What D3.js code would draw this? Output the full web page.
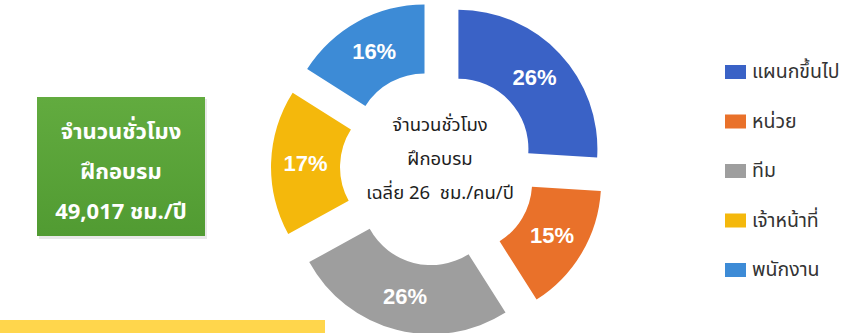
<!DOCTYPE html>
<html>
<head>
<meta charset="utf-8">
<script src="https://cdn.jsdelivr.net/npm/d3@7"></script>
<style>
  html, body { margin: 0; padding: 0; background: #ffffff; }
  svg { display: block; }
  .thai { font-family: "Noto Sans Thai", "Noto Sans Thai Looped", "Noto Sans", "Liberation Sans", sans-serif; white-space: pre; }
</style>
</head>
<body>
<svg id="chart" width="846" height="333"></svg>
<script>
// Training hours by staff level (share of total hours)
const categories = ["แผนกขึ้นไป", "หน่วย", "ทีม", "เจ้าหน้าที่", "พนักงาน"];
const values = [26, 15, 26, 17, 16];
const colors = ["#3a62c6", "#e9712a", "#9e9e9e", "#f4b80c", "#3d8bd6"];

const centerLines = ["จำนวนชั่วโมง", "ฝึกอบรม", "เฉลี่ย 26  ชม./คน/ปี"];
const boxLines = ["จำนวนชั่วโมง", "ฝึกอบรม", "49,017 ชม./ปี"];

const svg = d3.select("#chart");

// Bottom highlight strip
svg.append("rect")
  .attr("x", 0).attr("y", 320).attr("width", 325).attr("height", 13)
  .attr("fill", "#ffd64c");

// Green summary box
const gradId = "boxGrad";
const grad = svg.append("defs").append("linearGradient")
  .attr("id", gradId).attr("x1", 0).attr("y1", 0).attr("x2", 0).attr("y2", 1);
grad.append("stop").attr("offset", "0%").attr("stop-color", "#62ab3f");
grad.append("stop").attr("offset", "100%").attr("stop-color", "#519b32");

svg.append("rect")
  .attr("x", 39).attr("y", 99).attr("width", 168).attr("height", 140)
  .attr("fill", "#d8d8d8").attr("opacity", 0.6);
svg.append("rect")
  .attr("x", 37).attr("y", 97).attr("width", 168).attr("height", 139)
  .attr("fill", `url(#${gradId})`);

svg.append("g").selectAll("text")
  .data(boxLines)
  .join("text")
  .attr("class", "thai")
  .attr("x", 121)
  .attr("y", (d, i) => 132 + i * 40)
  .attr("text-anchor", "middle")
  .attr("dominant-baseline", "central")
  .attr("font-size", 22)
  .attr("font-weight", "bold")
  .attr("fill", "#ffffff")
  .text(d => d);

// Exploded doughnut
const cx = 438, cy = 168, explode = 28;
const innerR = 70, outerR = 139;

const pie = d3.pie().sort(null).value(d => d.value)
  .startAngle(0).endAngle(2 * Math.PI);
const arc = d3.arc().innerRadius(innerR).outerRadius(outerR);
const labelArc = d3.arc().innerRadius((innerR + outerR) / 2).outerRadius((innerR + outerR) / 2);

const slices = pie(categories.map((c, i) => ({ name: c, value: values[i], color: colors[i] })));

const donut = svg.append("g").attr("transform", `translate(${cx},${cy})`);

const sliceG = donut.selectAll("g.slice")
  .data(slices)
  .join("g")
  .attr("class", "slice")
  .attr("transform", d => {
    const a = (d.startAngle + d.endAngle) / 2;
    return `translate(${Math.sin(a) * explode},${-Math.cos(a) * explode})`;
  });

sliceG.append("path")
  .attr("d", arc)
  .attr("fill", d => d.data.color);

sliceG.append("text")
  .attr("transform", d => `translate(${labelArc.centroid(d)})`)
  .attr("text-anchor", "middle")
  .attr("dominant-baseline", "central")
  .attr("font-family", "'Liberation Sans', Arial, sans-serif")
  .attr("font-weight", "bold")
  .attr("font-size", 22)
  .attr("fill", "#ffffff")
  .text(d => d.data.value + "%");

// Centre caption
donut.append("g").selectAll("text")
  .data(centerLines)
  .join("text")
  .attr("class", "thai")
  .attr("x", 2)
  .attr("y", (d, i) => -43 + i * 34)
  .attr("text-anchor", "middle")
  .attr("dominant-baseline", "central")
  .attr("font-size", 18.5)
  .attr("fill", "#1e1e1e")
  .text(d => d);

// Legend
const legend = svg.append("g").selectAll("g")
  .data(categories)
  .join("g")
  .attr("transform", (d, i) => `translate(725,${72 + i * 49.5})`);

legend.append("rect")
  .attr("x", 0).attr("y", -7).attr("width", 21).attr("height", 14)
  .attr("fill", (d, i) => colors[i]);

legend.append("text")
  .attr("class", "thai")
  .attr("x", 27)
  .attr("y", 0)
  .attr("dominant-baseline", "central")
  .attr("font-size", 19.5)
  .attr("fill", "#333333")
  .text(d => d);
</script>
</body>
</html>
